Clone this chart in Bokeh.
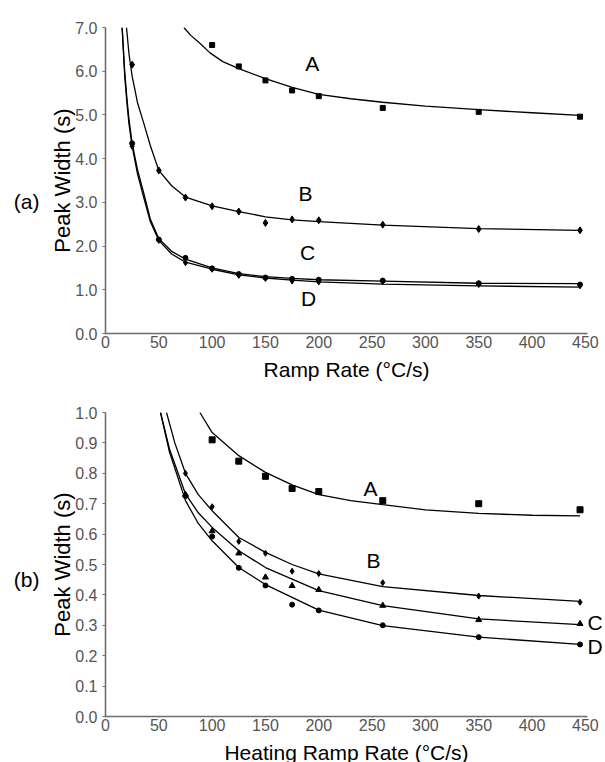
from bokeh.plotting import figure
from bokeh.layouts import column
from bokeh.models import FixedTicker, NumeralTickFormatter, Range1d, LinearAxis, Label
from bokeh.embed import file_html
from bokeh.resources import INLINE

FONT = "Liberation Sans"

# ---------------- Panel (a) data ----------------
a_rate = [25, 50, 75, 100, 125, 150, 175, 200, 260, 350, 445]
a_A_x = [100, 125, 150, 175, 200, 260, 350, 445]
a_A_y = [6.60, 6.11, 5.79, 5.56, 5.43, 5.16, 5.07, 4.96]
a_B_y = [6.15, 3.73, 3.11, 2.91, 2.79, 2.53, 2.61, 2.59, 2.49, 2.39, 2.36]
a_C_y = [4.35, 2.15, 1.73, 1.49, 1.36, 1.28, 1.25, 1.23, 1.21, 1.15, 1.12]
a_D_y = [4.28, 2.13, 1.62, 1.47, 1.33, 1.26, 1.20, 1.18, 1.19, 1.12, 1.09]

# fitted curves
a_fitA_x = [73.5, 80, 89, 98, 110, 125, 150, 175, 200, 230, 260, 300, 350, 400, 445]
a_fitA_y = [7.0, 6.82, 6.63, 6.42, 6.22, 6.06, 5.83, 5.63, 5.47, 5.37, 5.29, 5.20, 5.12, 5.05, 4.99]
a_fitB_x = [19.7, 22, 25, 27, 30, 36, 42, 50, 62, 75, 100, 125, 150, 175, 200, 260, 350, 445]
a_fitB_y = [7.0, 6.40, 5.88, 5.65, 5.28, 4.80, 4.30, 3.73, 3.38, 3.12, 2.92, 2.79, 2.67, 2.60, 2.56, 2.48, 2.40, 2.36]
a_fitCD_x = [15.6, 18, 20, 22, 25, 30, 36, 42, 50, 62, 75, 100, 125, 150, 175, 200, 260, 350, 445]
a_fitC_y = [7.0, 6.0, 5.4, 4.9, 4.35, 3.75, 3.20, 2.62, 2.17, 1.88, 1.70, 1.50, 1.37, 1.30, 1.26, 1.23, 1.20, 1.15, 1.14]
a_fitD_y = [7.0, 5.9, 5.3, 4.8, 4.28, 3.65, 3.10, 2.56, 2.13, 1.82, 1.63, 1.47, 1.34, 1.27, 1.22, 1.18, 1.13, 1.09, 1.06]

# ---------------- Panel (b) data ----------------
b_A_x = [100, 125, 150, 175, 200, 260, 350, 445]
b_A_y = [0.91, 0.84, 0.79, 0.75, 0.74, 0.71, 0.70, 0.68]
b_rate = [75, 100, 125, 150, 175, 200, 260, 350, 445]
b_B_y = [0.80, 0.69, 0.576, 0.537, 0.478, 0.47, 0.44, 0.396, 0.376]
b_C_y = [0.73, 0.61, 0.537, 0.458, 0.43, 0.417, 0.365, 0.318, 0.305]
b_D_y = [0.725, 0.592, 0.489, 0.431, 0.368, 0.349, 0.30, 0.261, 0.237]

b_fitA_x = [88.5, 100, 125, 150, 175, 200, 230, 260, 300, 350, 400, 445]
b_fitA_y = [1.0, 0.934, 0.858, 0.803, 0.762, 0.73, 0.71, 0.697, 0.68, 0.668, 0.662, 0.66]
b_fitB_x = [57.2, 65, 75, 87, 100, 125, 150, 175, 200, 260, 350, 445]
b_fitB_y = [1.0, 0.90, 0.80, 0.73, 0.677, 0.589, 0.54, 0.500, 0.469, 0.427, 0.398, 0.379]
b_fitCD_x = [51.6, 60, 75, 87, 100, 125, 150, 175, 200, 260, 350, 445]
b_fitC_y = [1.0, 0.88, 0.732, 0.67, 0.622, 0.545, 0.49, 0.452, 0.414, 0.365, 0.321, 0.302]
b_fitD_y = [1.0, 0.87, 0.71, 0.635, 0.578, 0.49, 0.434, 0.392, 0.35, 0.299, 0.261, 0.237]

x_ticks = [0, 50, 100, 150, 200, 250, 300, 350, 400, 450]
a_y_ticks = [0, 1, 2, 3, 4, 5, 6, 7]
b_y_ticks = [0, 0.1, 0.2, 0.3, 0.4, 0.5, 0.6, 0.7, 0.8, 0.9, 1.0]

# side texts on a 0-100 helper scale
a_side_ticks = [43]
a_side_text = {43: "(a)"}
b_side_ticks = [45]
b_side_text = {45: "(b)"}
b_right_ticks = [23, 31]
b_right_text = {31: "C", 23: "D"}

AXIS_COLOR = "#6e6e6e"
TICK_COLOR = "#555555"


def style(p, yticks, xtitle):
    p.xgrid.visible = False
    p.ygrid.visible = False
    p.outline_line_color = None
    for ax in (p.xaxis[0], p.yaxis[0]):
        ax.axis_line_color = AXIS_COLOR
        ax.axis_line_width = 1.6
        ax.major_tick_line_color = AXIS_COLOR
        ax.minor_tick_line_color = None
        ax.major_tick_in = 0
        ax.major_label_text_font = FONT
        ax.major_label_text_font_size = "16px"
        ax.major_label_text_color = TICK_COLOR
        ax.axis_label_text_font = FONT
        ax.axis_label_text_font_style = "normal"
        ax.axis_label_text_color = "black"
    p.xaxis[0].ticker = FixedTicker(ticks=x_ticks)
    p.xaxis[0].major_tick_out = 1
    p.xaxis[0].major_label_standoff = 1
    p.xaxis[0].axis_label = xtitle
    p.xaxis[0].axis_label_text_font_size = "21px"
    p.xaxis[0].axis_label_standoff = 7
    p.yaxis[0].ticker = FixedTicker(ticks=yticks)
    p.yaxis[0].formatter = NumeralTickFormatter(format="0.0")
    p.yaxis[0].major_tick_out = 3
    p.yaxis[0].major_label_standoff = 5
    p.yaxis[0].axis_label = "Peak Width (s)"
    p.yaxis[0].axis_label_text_font_size = "22px"
    p.yaxis[0].axis_label_standoff = -3


def text_axis(p, side, ticks, texts, standoff):
    ax = LinearAxis(y_range_name="lab", ticker=FixedTicker(ticks=ticks),
                    major_label_overrides=texts, axis_line_color=None,
                    major_tick_line_color=None, minor_tick_line_color=None,
                    major_tick_in=0, major_tick_out=0, major_label_standoff=standoff,
                    major_label_text_font=FONT, major_label_text_font_size="21px",
                    major_label_text_color="black")
    p.add_layout(ax, side)


def lbl(p, x, y, t):
    p.add_layout(Label(x=x, y=y, text=t, text_font=FONT, text_font_size="21px",
                       text_align="center", text_baseline="middle", text_color="black"))


LW = 1.3

# ---------------- Figure (a) ----------------
pa = figure(frame_width=482, frame_height=306, output_backend="svg", toolbar_location=None,
            x_range=Range1d(0, 452), y_range=Range1d(0, 7.0),
            min_border_left=105, min_border_right=16, min_border_top=27, min_border_bottom=52)
pa.extra_y_ranges = {"lab": Range1d(0, 100)}
style(pa, a_y_ticks, "Ramp Rate (°C/s)")
text_axis(pa, "left", a_side_ticks, a_side_text, 8)

pa.line(a_fitA_x, a_fitA_y, line_color="black", line_width=LW)
pa.line(a_fitB_x, a_fitB_y, line_color="black", line_width=LW)
pa.line(a_fitCD_x, a_fitC_y, line_color="black", line_width=LW)
pa.line(a_fitCD_x, a_fitD_y, line_color="black", line_width=LW)
pa.scatter(a_A_x, a_A_y, marker="square", size=5, color="black")
pa.scatter(a_rate, a_B_y, marker="diamond", size=7, color="black")
pa.scatter(a_rate, a_C_y, marker="circle", size=5, color="black")
pa.scatter(a_rate, a_D_y, marker="diamond", size=6, color="black")

lbl(pa, 193.9, 6.18, "A")
lbl(pa, 187.6, 3.20, "B")
lbl(pa, 189.5, 1.85, "C")
lbl(pa, 190.4, 0.80, "D")

# ---------------- Figure (b) ----------------
pb = figure(frame_width=482, frame_height=304, output_backend="svg", toolbar_location=None,
            x_range=Range1d(0, 452), y_range=Range1d(0, 1.0),
            min_border_left=105, min_border_right=16, min_border_top=27, min_border_bottom=45)
pb.extra_y_ranges = {"lab": Range1d(0, 100)}
style(pb, b_y_ticks, "Heating Ramp Rate (°C/s)")
text_axis(pb, "left", b_side_ticks, b_side_text, 8)
text_axis(pb, "right", b_right_ticks, b_right_text, 0)

pb.line(b_fitA_x, b_fitA_y, line_color="black", line_width=LW)
pb.line(b_fitB_x, b_fitB_y, line_color="black", line_width=LW)
pb.line(b_fitCD_x, b_fitC_y, line_color="black", line_width=LW)
pb.line(b_fitCD_x, b_fitD_y, line_color="black", line_width=LW)
pb.scatter(b_A_x, b_A_y, marker="square", size=6, color="black")
pb.scatter(b_rate, b_B_y, marker="diamond", size=6, color="black")
pb.scatter(b_rate, b_C_y, marker="triangle", size=6, color="black")
pb.scatter(b_rate, b_D_y, marker="circle", size=5, color="black")

lbl(pb, 248.6, 0.749, "A")
lbl(pb, 251.4, 0.513, "B")

layout = column(pa, pb, spacing=0)
open("out.html", "w").write(file_html(layout, INLINE))
